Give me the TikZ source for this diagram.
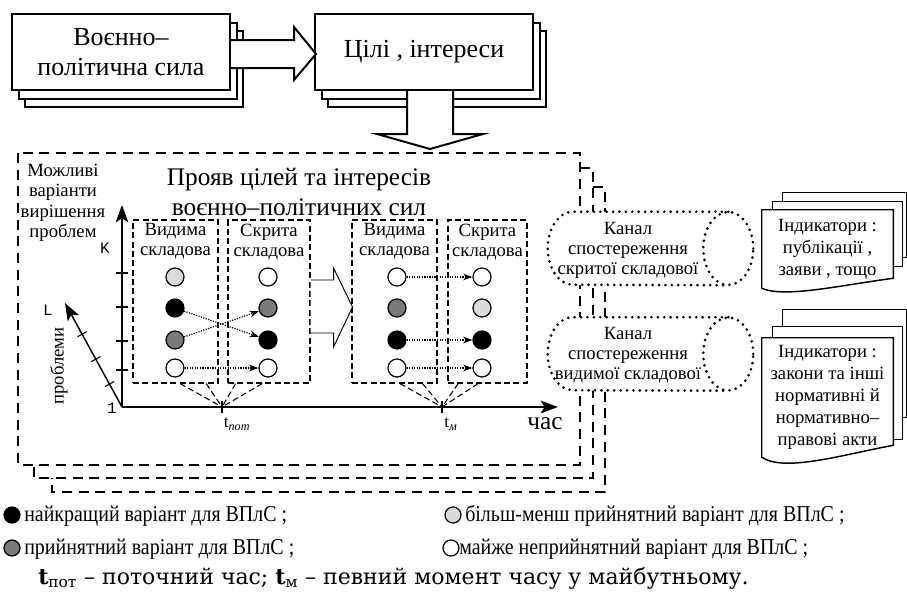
\documentclass[tikz,border=0pt]{standalone}
\usepackage{fontspec}
\setmainfont{Liberation Serif}
\newfontfamily\legendfont[FakeStretch=0.88]{Liberation Serif}
\newfontfamily\notefont{DejaVu Serif}
\newfontfamily\axisfont{Liberation Mono}
\usetikzlibrary{positioning,calc,arrows.meta,shadows}
\tikzset{
topbox/.style={rectangle, draw=black, fill=white, line width=1.5pt, minimum width=163.5pt, minimum height=57pt, align=center, font=\fontsize{19.5}{22.5}\selectfont, double copy shadow={shadow xshift=5pt, shadow yshift=-6.5pt}},
blockarrow/.style={draw=black, fill=white, line width=1.5pt, line join=miter},
hollowarrow/.style={draw=black, fill=white, line width=0.7pt},
bigdash/.style={line width=1.6pt, dash pattern=on 7.5pt off 5pt},
compbox/.style={rectangle, draw=black, line width=0.8pt, dash pattern=on 4.5pt off 2.5pt, minimum height=122.25pt},
complabel/.style={align=center, inner sep=1pt, font=\fontsize{14}{15}\selectfont},
varnode/.style={circle, draw=black, line width=0.9pt, minimum size=13.5pt, inner sep=0pt},
bestvar/.style={varnode, fill=black},
goodvar/.style={varnode, fill=black!52},
okvar/.style={varnode, fill=black!14},
badvar/.style={varnode, fill=white},
varflow/.style={densely dotted, line width=0.9pt, -{Stealth[length=7pt,width=5pt]}},
conv/.style={line width=0.8pt, dash pattern=on 4.5pt off 2.5pt},
axisline/.style={line width=1.1pt, -{Stealth[length=13pt,width=9.5pt,inset=3pt]}},
axislabel/.style={font=\axisfont\fontsize{12}{14}\selectfont, inner sep=0pt},
canalbody/.style={rectangle, minimum width=116.25pt, minimum height=54.75pt, inner sep=0pt},
canalline/.style={draw=black, line width=2.2pt, dash pattern=on 0pt off 4.8pt, line cap=round},
canaltext/.style={align=center, inner sep=0pt, font=\fontsize{14}{15}\selectfont},
doctext/.style={rectangle, minimum width=98.25pt, align=center, inner sep=0pt, font=\fontsize{14}{16.5}\selectfont},
docline/.style={draw=black, fill=white, line width=1.1pt},
legendtext/.style={anchor=west, inner sep=0pt, font=\legendfont\fontsize{17}{19}\selectfont},
legendvar/.style={circle, draw=black, line width=0.9pt, minimum size=12pt, inner sep=0pt}
}

\begin{document}
\begin{tikzpicture}[x=0.75pt,y=-0.75pt]
\useasboundingbox (0,0) rectangle (907,596);
%Top boxes
\node[topbox] (vps) at (121,52) {Воєнно–\\політична сила};
\node[topbox] (goals) at (424,52) {Цілі , інтереси};
\draw[blockarrow] (vps.east) ++(0,-12) -- ++(63,0) -- ++(0,-13) -- ++(22,27) -- ++(-22,26) -- ++(0,-12) -- ++(-63,0);
\draw[blockarrow] (goals.south) ++(-17,0) -- ++(0,43) -- ++(-30,0) -- ++(53,15) -- ++(53,-15) -- ++(-30,0) -- ++(0,-43);

%Frames
\draw[bigdash] (580,168) -- (593,168) -- (593,478) -- (34,478) -- (34,465);
\draw[bigdash] (593,187) -- (605,187) -- (605,492) -- (52,492) -- (52,478);
\draw[bigdash] (18,153) rectangle (580,465);

%Texts
\node[align=center, font=\fontsize{19}{22.5}\selectfont] (title) at (299,192) {Прояв цілей та інтересів\\воєнно–політичних сил};
\node[align=center, font=\fontsize{14}{15.4}\selectfont] (options) at (63,203) {Можливі\\варіанти\\вирішення\\проблем};

%Axes
\coordinate (O) at (122,407);
\coordinate (ytip) at (122,205);
\coordinate (Ltip) at (65,303);
\coordinate (xtip) at (558,407);
\coordinate (tnow) at (222,407);
\coordinate (tfut) at (442,407);
\draw[axisline] (O) -- (ytip);
\draw[axisline] (O) -- (Ltip);
\draw[axisline] (O) -- (xtip);
\foreach \y in {273,307,341,370}
  \draw[line width=0.8pt] (116,\y) -- (128,\y);
\foreach \f in {0.22,0.46,0.7}
  \draw[line width=0.8pt] ($(O)!\f!(Ltip)!4pt!90:(Ltip)$) -- ($(O)!\f!(Ltip)!4pt!-90:(Ltip)$);
\draw[line width=0.8pt] (tnow) ++(0,-6) -- ++(0,12);
\draw[line width=0.8pt] (tfut) ++(0,-6) -- ++(0,12);
\node[axislabel] (K) at (105,248) {K};
\node[axislabel] (L) at (48,310) {L};
\node[axislabel] (one) at (112,408) {1};
\node[rotate=90, font=\fontsize{14}{15}\selectfont] (problems) at (59,366) {проблеми};
\node[font=\fontsize{13}{14}\selectfont] (tnowlabel) at (237,424) {t\textsubscript{\textit{пот}}};
\node[font=\fontsize{13}{14}\selectfont] (tfutlabel) at (451,424) {t\textsubscript{\textit{м}}};
\node[font=\fontsize{19}{20}\selectfont] (time) at (545,424) {час};

%Components
\node[compbox, minimum width=63.75pt] (vis1) at (175.5,301.5) {};
\node[compbox, minimum width=61.5pt] (hid1) at (269,301.5) {};
\node[compbox, minimum width=63.75pt] (vis2) at (394.5,301.5) {};
\node[compbox, minimum width=59.25pt] (hid2) at (487.5,301.5) {};
\node[complabel, anchor=north] at ([yshift=-2pt]vis1.north) {Видима\\складова};
\node[complabel, anchor=north] at ([yshift=-2pt]hid1.north) {Скрита\\складова};
\node[complabel, anchor=north] at ([yshift=-2pt]vis2.north) {Видима\\складова};
\node[complabel, anchor=north] at ([yshift=-2pt]hid2.north) {Скрита\\складова};
\draw[hollowarrow] (hid1.east) ++(0,-21.5) -- ++(23,0) -- ++(0,-12) -- ++(19,39) -- ++(-19,40) -- ++(0,-14) -- ++(-23,0);

%Variants
\node[okvar] (a1) at (175,277) {};
\node[bestvar] (a2) at (175,308) {};
\node[goodvar] (a3) at (175,340) {};
\node[badvar] (a4) at (175,368) {};
\node[badvar] (b1) at (268,277) {};
\node[goodvar] (b2) at (268,308) {};
\node[bestvar] (b3) at (268,340) {};
\node[badvar] (b4) at (268,368) {};
\node[badvar] (c1) at (397,277) {};
\node[goodvar] (c2) at (397,308) {};
\node[bestvar] (c3) at (397,340) {};
\node[badvar] (c4) at (397,368) {};
\node[badvar] (d1) at (482,277) {};
\node[okvar] (d2) at (482,308) {};
\node[bestvar] (d3) at (482,340) {};
\node[badvar] (d4) at (482,368) {};
\draw[varflow] (a2) -- (b3);
\draw[varflow] (a3) -- (b2);
\draw[varflow] (a4) -- (b4);
\draw[varflow] (c1) -- (d1);
\draw[varflow] (c3) -- (d3);
\draw[varflow] (c4) -- (d4);

%Lines to time points
\draw[conv] ([xshift=3.4pt]vis1.south) -- (tnow);
\draw[conv] ([xshift=23pt]vis1.south) -- (tnow);
\draw[conv] ([xshift=-25pt]hid1.south) -- (tnow);
\draw[conv] ([xshift=-5pt]hid1.south) -- (tnow);
\draw[conv] ([xshift=4pt]vis2.south) -- (tfut);
\draw[conv] ([xshift=21pt]vis2.south) -- (tfut);
\draw[conv] ([xshift=-22pt]hid2.south) -- (tfut);
\draw[conv] ([xshift=-7pt]hid2.south) -- (tfut);

%Channels
\node[canalbody] (chanhid) at (650.5,248.5) {};
\node[canalbody] (chanvis) at (650.5,354) {};
\foreach \c in {chanhid,chanvis}{
  \fill[white] (\c.north west) -- (\c.north east) arc[start angle=90, end angle=-90, x radius=18.75pt, y radius=27.375pt] -- (\c.south west) arc[start angle=-90, end angle=-270, x radius=18.75pt, y radius=27.375pt] -- cycle;
  \draw[canalline] (\c.north east) -- (\c.north west) arc[start angle=90, end angle=270, x radius=18.75pt, y radius=27.375pt] -- (\c.south east);
  \draw[canalline] (\c.east) ellipse[x radius=18.75pt, y radius=27.375pt];
}
\node[canaltext] at (628,250) {Канал\\спостереження\\скритої складової};
\node[canaltext] at (628,355.5) {Канал\\спостереження\\видимої складової};

%Indicators
\node[doctext, minimum height=58.5pt] (indpub) at (827.5,249) {};
\node[doctext, minimum height=89.25pt] (indlaw) at (827.5,397.5) {};
\draw[docline] ([shift={(21,-8)}]indpub.north west) -- ++(0,-9) -- ([shift={(13,-17)}]indpub.north east) -- ++(0,65) -- ++(-4,0);
\draw[docline] ([shift={(11,0)}]indpub.north west) -- ++(0,-8) -- ([shift={(9,-8)}]indpub.north east) -- ++(0,65) -- ++(-9,0);
\draw[docline] (indpub.north west) -- (indpub.north east) -- ([yshift=7.5pt]indpub.south east) .. controls +(-53,7) and +(23,10) .. (indpub.south west) -- cycle;
\draw[docline] ([shift={(21,-11)}]indlaw.north west) -- ++(0,-17) -- ([shift={(13,-28)}]indlaw.north east) -- ++(0,108) -- ++(-4,0);
\draw[docline] ([shift={(11,0)}]indlaw.north west) -- ++(0,-11) -- ([shift={(9,-11)}]indlaw.north east) -- ++(0,113) -- ++(-9,0);
\draw[docline] (indlaw.north west) -- (indlaw.north east) -- ([yshift=9pt]indlaw.south east) .. controls +(-53,10) and +(23,15) .. (indlaw.south west) -- cycle;
\node[doctext] at (indpub) {Індикатори :\\публікації ,\\заяви , тощо};
\node[doctext] at (indlaw) {Індикатори :\\закони та інші\\нормативні й\\нормативно–\\правові акти};

%Legend
\node[legendvar, fill=black] (lbest) at (12,515) {};
\node[legendtext] at (24,516) {найкращий варіант для ВПлС ;};
\node[legendvar, fill=black!14] (lok) at (453,515) {};
\node[legendtext] at (465,516) {більш-менш прийнятний варіант для ВПлС ;};
\node[legendvar, fill=black!52] (lgood) at (12,548) {};
\node[legendtext] at (24,549) {прийнятний варіант для ВПлС ;};
\node[legendvar, fill=white] (lbad) at (451,548) {};
\node[legendtext] at (459,549) {майже неприйнятний варіант для ВПлС ;};
\node[anchor=west, inner sep=0pt, font=\notefont\fontsize{16.5}{18}\selectfont] (note) at (38,578) {\textbf{t}\textsubscript{пот} – поточний час; \textbf{t}\textsubscript{м} – певний момент часу у майбутньому.};
\end{tikzpicture}
\end{document}
